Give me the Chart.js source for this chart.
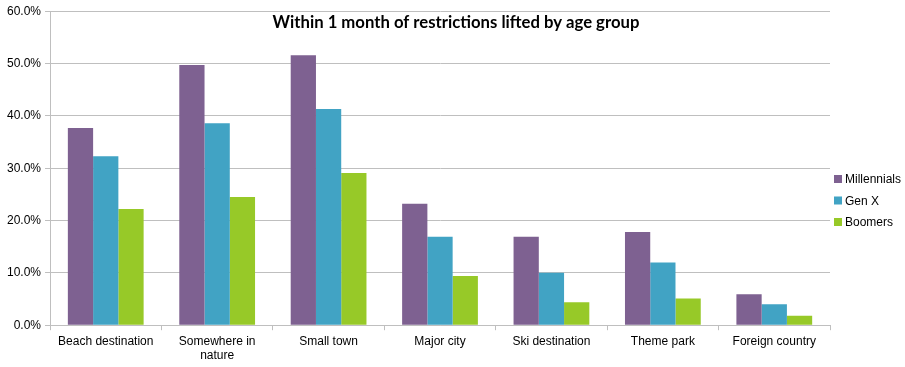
<!DOCTYPE html>
<html>
<head>
<meta charset="utf-8">
<script src="https://cdn.jsdelivr.net/npm/chart.js@4"></script>
<style>
  body { margin: 0; background: #fff; }
  #wrap { width: 905px; height: 367px; }
</style>
</head>
<body>
<div id="wrap"><canvas id="ageChart" width="905" height="367"></canvas></div>
<script>
var categories = ['Beach destination', ['Somewhere in', 'nature'], 'Small town', 'Major city', 'Ski destination', 'Theme park', 'Foreign country'];
var millennials = [37.7, 49.7, 51.6, 23.2, 16.9, 17.8, 5.9];
var genX = [32.3, 38.6, 41.3, 16.9, 10.0, 12.0, 4.0];
var boomers = [22.2, 24.5, 29.1, 9.4, 4.4, 5.1, 1.8];
var chartTitle = 'Within 1 month of restrictions lifted by age group';
var tickFont = { family: '"Liberation Sans", Arial, sans-serif', size: 12 };

// title sits inside the plot area and the legend hugs the right edge, so draw both by hand
var overlayPlugin = {
    id: 'overlay',
    afterDraw: function (chart) {
        var c = chart.ctx;
        c.save();
        c.font = 'bold 16.7px Lato, "Open Sans", sans-serif';
        c.fillStyle = '#000';
        c.textAlign = 'center';
        c.textBaseline = 'middle';
        c.fillText(chartTitle, 456, 23);

        // legend
        c.font = '12px "Liberation Sans", Arial, sans-serif';
        c.textAlign = 'left';
        var x = chart.chartArea.right + 4;
        chart.data.datasets.forEach(function (ds, i) {
            var y = 179 + i * 21.5;
            c.fillStyle = ds.backgroundColor;
            c.fillRect(x, y - 4, 8, 8);
            c.fillStyle = '#000';
            c.fillText(ds.label, x + 11, y + 1);
        });
        c.restore();
    }
};

var ctx = document.getElementById('ageChart').getContext('2d');
var chart = new Chart(ctx, {
    type: 'bar',
    data: {
        labels: categories,
        datasets: [
            { label: 'Millennials', data: millennials, backgroundColor: '#7E6191' },
            { label: 'Gen X', data: genX, backgroundColor: '#41A3C4' },
            { label: 'Boomers', data: boomers, backgroundColor: '#97C928' }
        ]
    },
    options: {
        responsive: false,
        animation: false,
        layout: { padding: { top: 4, right: 75, left: 3, bottom: 0 } },
        datasets: { bar: { categoryPercentage: 0.68, barPercentage: 1.0 } },
        plugins: {
            legend: { display: false },
            tooltip: { enabled: false }
        },
        scales: {
            x: {
                grid: { drawOnChartArea: false, offset: true, tickLength: 5, color: '#BFBFBF' },
                border: { color: '#BFBFBF' },
                ticks: {
                    color: '#000',
                    maxRotation: 0,
                    autoSkip: false,
                    padding: 4,
                    font: tickFont
                }
            },
            y: {
                min: 0,
                max: 60,
                grid: { color: '#BFBFBF', tickLength: 5 },
                border: { color: '#BFBFBF' },
                ticks: {
                    stepSize: 10,
                    color: '#000',
                    padding: 4,
                    font: tickFont,
                    callback: function (v) { return v.toFixed(1) + '%'; }
                }
            }
        }
    },
    plugins: [overlayPlugin]
});
</script>
</body>
</html>
